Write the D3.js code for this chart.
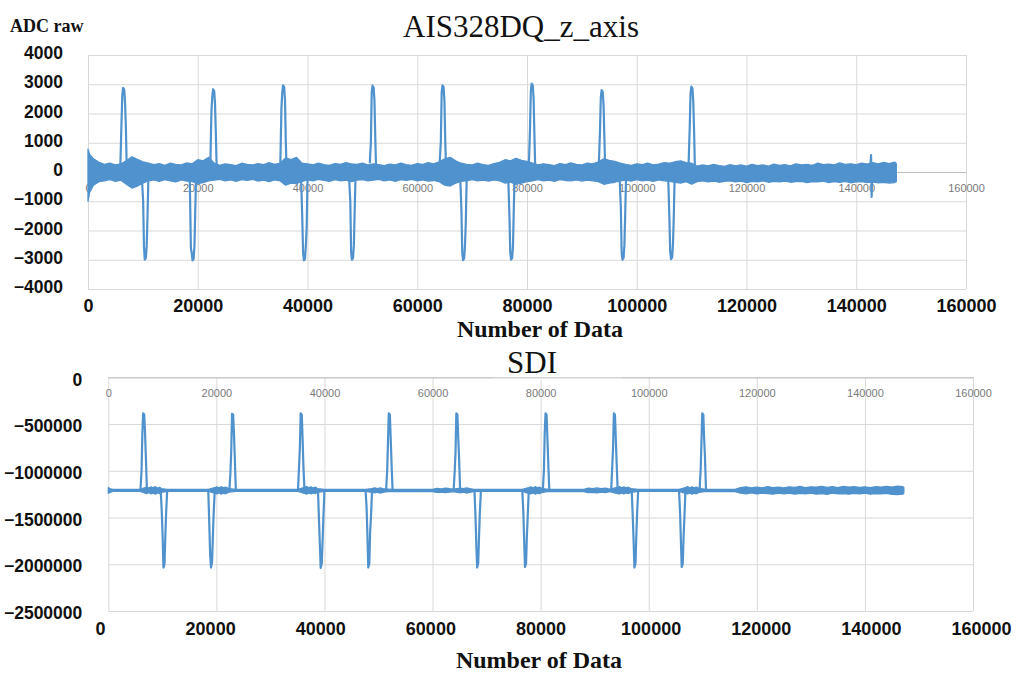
<!doctype html>
<html lang='en'>
  <head>
    <meta charset='utf-8' />
    <style>
      * {
        padding: 0;
        margin: 0;
      }

      body {
        background: #fff;
      }

      svg {
        display: block;
      }

      .grid line { stroke: #d9d9d9; stroke-width: 1; }
      .grid path { display: none; }
      .big path, .big line { display: none; }
      .big text {
        font-family: 'Liberation Sans', Arial, sans-serif;
        font-weight: 700;
        font-size: 17.5px;
        fill: #111;
      }
      .big.xl text { font-size: 18px; }
      .small line { display: none; }
      .small path { stroke: #bfbfbf; }
      .small text {
        font-family: 'Liberation Sans', Arial, sans-serif;
        font-size: 11px;
        fill: #7a7a7a;
      }
      .serif { font-family: 'Liberation Serif', 'Times New Roman', serif; fill: #111; }
    </style>
    <title>AIS328DQ_z_axis / SDI</title>
  </head>
  <body>
    <div id='container'></div>
    <script src='https://d3js.org/d3.v7.min.js'></script>
    <script type='text/javascript'>

      // tick labels
      var xTicks = [0, 20000, 40000, 60000, 80000, 100000, 120000, 140000, 160000];
      var zTicks = [-4000, -3000, -2000, -1000, 0, 1000, 2000, 3000, 4000];
      var sdiTicks = [-2500000, -2000000, -1500000, -1000000, -500000, 0];

      // AIS328DQ z axis: noise band (sample, upper, lower)
      var zBandX = [0, 300, 1000, 2000, 3000, 4000, 5000, 6000, 7000, 8000, 9000, 10000,
        11000, 12000, 13000, 14000, 15000, 16000, 17000, 18000, 19000, 20000,
        21000, 22000, 23000, 24000, 25000, 26000, 27000, 28000, 29000, 30000,
        31000, 32000, 33000, 34000, 35000, 36000, 37000, 38000, 39000, 40000,
        41000, 42000, 43000, 44000, 45000, 46000, 47000, 48000, 49000, 50000,
        51000, 52000, 53000, 54000, 55000, 56000, 57000, 58000, 59000, 60000,
        61000, 62000, 63000, 64000, 65000, 66000, 67000, 68000, 69000, 70000,
        71000, 72000, 73000, 74000, 75000, 76000, 77000, 78000, 79000, 80000,
        81000, 82000, 83000, 84000, 85000, 86000, 87000, 88000, 89000, 90000,
        91000, 92000, 93000, 94000, 95000, 96000, 97000, 98000, 99000, 100000,
        101000, 102000, 103000, 104000, 105000, 106000, 107000, 108000, 109000, 110000,
        111000, 112000, 113000, 114000, 115000, 116000, 117000, 118000, 119000, 120000,
        121000, 122000, 123000, 124000, 125000, 126000, 127000, 128000, 129000, 130000,
        131000, 132000, 133000, 134000, 135000, 136000, 137000, 138000, 139000, 140000,
        141000, 142000, 143000, 144000, 145000, 146000, 147000, 147300];
      var zBandHi = [780, 600, 450, 330, 260, 300, 240, 280, 380, 520, 430, 350,
        300, 250, 290, 230, 300, 260, 240, 310, 280, 420,
        380, 500, 300, 230, 280, 250, 220, 300, 260, 240,
        290, 250, 320, 260, 300, 480, 420, 500, 300, 280,
        240, 300, 250, 230, 290, 260, 320, 280, 260, 300,
        240, 280, 250, 220, 270, 240, 300, 250, 230, 290,
        260, 320, 280, 350, 450, 500, 380, 300, 260, 240,
        300, 250, 230, 290, 330, 420, 380, 470, 400, 360,
        300, 240, 280, 250, 220, 290, 250, 310, 260, 240,
        300, 280, 350, 450, 400, 360, 300, 260, 230, 280,
        250, 300, 240, 270, 320, 300, 350, 380, 320, 300,
        200, 240, 210, 260, 220, 190, 250, 210, 240, 200,
        260, 220, 240, 200, 270, 230, 250, 210, 280, 240,
        260, 230, 300, 250, 270, 240, 310, 260, 280, 250,
        300, 270, 320, 280, 330, 290, 340, 280];
      var zBandLo = [-1000, -700, -450, -330, -300, -260, -320, -280, -420, -550, -480, -380,
        -300, -270, -320, -260, -300, -340, -270, -310, -330, -400,
        -360, -300, -280, -250, -300, -270, -320, -260, -290, -250,
        -310, -280, -330, -270, -300, -450, -380, -400, -320, -270,
        -300, -250, -290, -320, -260, -300, -280, -330, -280, -260,
        -300, -280, -250, -300, -270, -320, -260, -290, -250, -300,
        -270, -310, -290, -330, -450, -480, -380, -320, -300, -260,
        -300, -280, -310, -270, -300, -380, -350, -420, -380, -330,
        -300, -260, -300, -280, -320, -260, -290, -300, -270, -310,
        -280, -300, -330, -420, -380, -350, -300, -280, -310, -260,
        -300, -280, -320, -270, -300, -320, -350, -380, -330, -420,
        -330, -300, -340, -310, -350, -320, -300, -340, -310, -360,
        -320, -340, -300, -350, -320, -340, -310, -350, -330, -320,
        -360, -330, -340, -310, -360, -330, -350, -320, -370, -340,
        -330, -360, -340, -370, -350, -380, -360, -330];

      // AIS328DQ z axis: spikes (sample, ADC raw)
      var zSpikes = [
        [[5900, 250], [6100, 1650], [6250, 2630], [6400, 2880], [6600, 2820], [6750, 2380], [6900, 1550], [7100, -250]],
        [[9850, -300], [10050, -1000], [10200, -2560], [10350, -3000], [10550, -2940], [10700, -2500], [10850, -1500], [11050, 200]],
        [[18550, -300], [18750, -2600], [18900, -2770], [19050, -3020], [19250, -2960], [19400, -2520], [19550, -1300], [19750, 200]],
        [[22300, 300], [22500, 2100], [22650, 2580], [22800, 2830], [23000, 2770], [23150, 2330], [23300, 1300], [23500, -250]],
        [[35050, 300], [35250, 2200], [35400, 2710], [35550, 2960], [35750, 2900], [35900, 2460], [36050, 1000], [36250, -300]],
        [[38850, -300], [39050, -1600], [39200, -2770], [39350, -3020], [39550, -2960], [39700, -2520], [39850, -1900], [40050, 200]],
        [[47600, -300], [47800, -1000], [47950, -2750], [48100, -3000], [48300, -2940], [48450, -2500], [48600, -1300], [48800, 200]],
        [[51350, 300], [51550, 1000], [51700, 2700], [51850, 2950], [52050, 2890], [52200, 2450], [52350, 1200], [52550, -250]],
        [[64100, 350], [64300, 1050], [64450, 2710], [64600, 2960], [64800, 2900], [64950, 2460], [65100, 1100], [65300, -250]],
        [[67850, -300], [68050, -1300], [68200, -2760], [68350, -3010], [68550, -2950], [68700, -2510], [68850, -1700], [69050, 200]],
        [[76600, -300], [76800, -1500], [76950, -2750], [77100, -3000], [77300, -2940], [77450, -2500], [77600, -1200], [77800, 200]],
        [[80350, 300], [80550, 1500], [80700, 2770], [80850, 3020], [81050, 2960], [81200, 2520], [81350, 1300], [81550, -250]],
        [[93100, 300], [93300, 1400], [93450, 2550], [93600, 2800], [93800, 2740], [93950, 2300], [94100, 1200], [94300, -300]],
        [[96900, -300], [97100, -1200], [97250, -2750], [97400, -3000], [97600, -2940], [97750, -2500], [97900, -1400], [98100, 200]],
        [[105750, -300], [105950, -1600], [106100, -2730], [106250, -2980], [106450, -2920], [106600, -2480], [106750, -1500], [106950, 200]],
        [[109450, 300], [109650, 1500], [109800, 2670], [109950, 2920], [110150, 2860], [110300, 2420], [110450, 1400], [110650, -300]],
        [[142550, 100], [142700, 580], [142800, -850], [142950, 100]]
      ];

      // SDI: noise band (sample, upper, lower)
      var sdiBandX = [0, 400, 900, 5900, 7100, 7500, 7900, 8300, 8700, 9100, 9500, 9800, 10900,
        18500, 19700, 20100, 20500, 20900, 21300, 21700, 22100, 22400, 23600,
        35100, 36300, 36700, 37100, 37500, 37900, 38300, 38700, 40000,
        47600, 48800, 49300, 49800, 50300, 50800, 51300, 52600,
        60000, 60800, 61600, 62400, 63200, 63900, 65100, 65700, 66300, 66900, 67500, 69000,
        76600, 77800, 78200, 78600, 79000, 79400, 79800, 80300, 81600,
        88000, 88800, 89600, 90400, 91200, 92000, 92800, 94200, 94600, 95000, 95400, 95800, 96200, 96700, 98100,
        105600, 106800, 107200, 107600, 108000, 108400, 108800, 109300, 110600,
        116000, 117000, 118000, 119000, 120000, 121000, 122000, 123000, 124000, 125000, 126000,
        127000, 128000, 129000, 130000, 131000, 132000, 133000, 134000, 135000, 136000,
        137000, 138000, 139000, 140000, 141000, 142000, 143000, 144000, 145000, 146000, 147000, 147200];
      var sdiBandHi = [-1180000, -1195000, -1200000, -1200000, -1175000, -1185000, -1172000, -1182000, -1170000, -1185000, -1176000, -1190000, -1200000,
        -1200000, -1180000, -1172000, -1185000, -1170000, -1182000, -1174000, -1186000, -1192000, -1200000,
        -1200000, -1178000, -1168000, -1182000, -1172000, -1184000, -1174000, -1190000, -1200000,
        -1200000, -1190000, -1182000, -1192000, -1184000, -1190000, -1194000, -1200000,
        -1198000, -1188000, -1194000, -1186000, -1192000, -1196000, -1186000, -1192000, -1184000, -1192000, -1196000, -1200000,
        -1200000, -1180000, -1172000, -1184000, -1170000, -1182000, -1176000, -1190000, -1200000,
        -1198000, -1186000, -1192000, -1184000, -1190000, -1186000, -1196000, -1178000, -1170000, -1182000, -1172000, -1184000, -1176000, -1190000, -1200000,
        -1200000, -1180000, -1170000, -1184000, -1172000, -1182000, -1174000, -1188000, -1200000,
        -1198000, -1180000, -1172000, -1184000, -1175000, -1182000, -1170000, -1180000, -1174000, -1183000, -1172000,
        -1178000, -1168000, -1180000, -1172000, -1176000, -1166000, -1178000, -1170000, -1180000, -1168000,
        -1176000, -1170000, -1178000, -1172000, -1180000, -1170000, -1176000, -1166000, -1174000, -1164000, -1170000, -1180000];
      var sdiBandLo = [-1240000, -1228000, -1220000, -1220000, -1245000, -1232000, -1248000, -1238000, -1250000, -1236000, -1244000, -1230000, -1220000,
        -1220000, -1240000, -1248000, -1234000, -1250000, -1238000, -1246000, -1234000, -1228000, -1220000,
        -1220000, -1242000, -1250000, -1236000, -1248000, -1238000, -1244000, -1230000, -1220000,
        -1220000, -1232000, -1236000, -1228000, -1238000, -1230000, -1226000, -1220000,
        -1222000, -1232000, -1228000, -1234000, -1228000, -1224000, -1236000, -1228000, -1238000, -1230000, -1224000, -1220000,
        -1220000, -1242000, -1248000, -1236000, -1250000, -1240000, -1244000, -1230000, -1220000,
        -1222000, -1234000, -1230000, -1236000, -1228000, -1234000, -1224000, -1244000, -1248000, -1238000, -1248000, -1236000, -1244000, -1230000, -1220000,
        -1220000, -1242000, -1248000, -1236000, -1250000, -1238000, -1246000, -1232000, -1220000,
        -1222000, -1240000, -1246000, -1236000, -1248000, -1238000, -1245000, -1250000, -1238000, -1246000, -1240000,
        -1250000, -1242000, -1248000, -1238000, -1250000, -1244000, -1252000, -1240000, -1248000, -1244000,
        -1250000, -1242000, -1248000, -1240000, -1250000, -1244000, -1248000, -1242000, -1252000, -1256000, -1250000, -1240000];

      // SDI: spikes (sample, value)
      var sdiSpikes = [
        [[5950, -1210000], [6150, -1000000], [6300, -600000], [6450, -385000], [6650, -400000], [6800, -600000], [6950, -850000], [7150, -1210000]],
        [[9700, -1210000], [9900, -1450000], [10050, -1700000], [10200, -2035000], [10400, -2000000], [10550, -1700000], [10700, -1450000], [10900, -1210000]],
        [[18500, -1210000], [18700, -1600000], [18850, -1900000], [19000, -2035000], [19200, -1980000], [19350, -1700000], [19500, -1450000], [19700, -1210000]],
        [[22400, -1210000], [22600, -1020000], [22750, -780000], [22900, -390000], [23100, -400000], [23250, -600000], [23400, -850000], [23600, -1210000]],
        [[35100, -1210000], [35300, -950000], [35450, -750000], [35600, -385000], [35800, -400000], [35950, -650000], [36100, -950000], [36300, -1210000]],
        [[38800, -1210000], [39000, -1550000], [39150, -1800000], [39300, -2040000], [39500, -1990000], [39650, -1750000], [39800, -1500000], [40000, -1210000]],
        [[47600, -1210000], [47800, -1400000], [47950, -1700000], [48100, -2035000], [48300, -1990000], [48450, -1650000], [48600, -1500000], [48800, -1210000]],
        [[51400, -1210000], [51600, -1000000], [51750, -700000], [51900, -385000], [52100, -400000], [52250, -650000], [52400, -900000], [52600, -1210000]],
        [[63900, -1210000], [64100, -1000000], [64250, -800000], [64400, -385000], [64600, -400000], [64750, -650000], [64900, -850000], [65100, -1210000]],
        [[67750, -1210000], [67950, -1500000], [68100, -1800000], [68250, -2035000], [68450, -1990000], [68600, -1700000], [68750, -1450000], [68950, -1210000]],
        [[76600, -1210000], [76800, -1450000], [76950, -1750000], [77100, -2030000], [77300, -1990000], [77450, -1700000], [77600, -1500000], [77800, -1210000]],
        [[80400, -1210000], [80600, -1000000], [80750, -600000], [80900, -385000], [81100, -400000], [81250, -650000], [81400, -900000], [81600, -1210000]],
        [[93050, -1210000], [93250, -950000], [93400, -750000], [93550, -385000], [93750, -400000], [93900, -650000], [94050, -900000], [94250, -1210000]],
        [[96850, -1210000], [97050, -1500000], [97200, -1750000], [97350, -2035000], [97550, -1990000], [97700, -1700000], [97850, -1450000], [98050, -1210000]],
        [[105600, -1210000], [105800, -1450000], [105950, -1750000], [106100, -2030000], [106300, -1990000], [106450, -1700000], [106600, -1500000], [106800, -1210000]],
        [[109400, -1210000], [109600, -1000000], [109750, -700000], [109900, -385000], [110100, -400000], [110250, -650000], [110400, -850000], [110600, -1210000]]
      ];

      var blue = '#5092cd';

      var svg = d3.select('#container').append('svg')
          .attr('width', 1019)
          .attr('height', 675);

      // draws one panel: grid, axes labels, noise band and spikes
      var drawPanel = function(p) {
        var g = svg.append('g');
        var w = p.x.range()[1] - p.x.range()[0];
        var h = p.y.range()[0] - p.y.range()[1];
        var fmt = d3.format('d');

        g.append('g').attr('class', 'grid')
          .attr('transform', 'translate(' + p.x.range()[0] + ',0)')
          .call(d3.axisLeft(p.y).tickValues(p.yTicks).tickSize(-w).tickFormat(''));
        g.append('g').attr('class', 'grid')
          .attr('transform', 'translate(0,' + p.y.range()[0] + ')')
          .call(d3.axisBottom(p.x).tickValues(xTicks).tickSize(h).tickFormat(''))
          .selectAll('line').attr('y2', -h);

        if (p.after) p.after(g);

        // Excel category axis at y = 0 with small grey labels
        g.append('g').attr('class', 'small')
          .attr('transform', 'translate(0,' + p.y(0) + ')')
          .call(d3.axisBottom(p.x).tickValues(xTicks).tickFormat(fmt).tickSize(0).tickPadding(12).tickSizeOuter(0));

        // big bold labels added below / left of the plot
        g.append('g').attr('class', 'big xl')
          .attr('transform', 'translate(0,' + p.y.range()[0] + ')')
          .call(d3.axisBottom(p.xLab).tickValues(xTicks).tickFormat(fmt).tickSize(0).tickPadding(p.xPad));
        g.append('g').attr('class', 'big')
          .attr('transform', 'translate(' + p.x.range()[0] + ',0)')
          .call(d3.axisLeft(p.y).tickValues(p.yTicks).tickFormat(fmt).tickSize(0).tickPadding(p.yPad))
          .selectAll('text').attr('dy', p.yDy);

        var band = d3.area()
          .x(function(d) { return p.x(d[0]); })
          .y0(function(d) { return p.y(d[2]); })
          .y1(function(d) { return p.y(d[1]); });

        g.append('path')
          .datum(d3.zip(p.bandX, p.bandHi, p.bandLo))
          .attr('d', band)
          .attr('fill', blue)
          .attr('stroke', blue)
          .attr('stroke-width', 1.3)
          .attr('stroke-linejoin', 'round');

        var line = d3.line()
          .x(function(d) { return p.x(d[0]); })
          .y(function(d) { return p.y(d[1]); });

        g.selectAll('path.spike')
          .data(p.spikes)
          .enter()
          .append('path')
          .attr('class', 'spike')
          .attr('d', line)
          .attr('fill', 'none')
          .attr('stroke', blue)
          .attr('stroke-width', 2.2)
          .attr('stroke-linejoin', 'round');
      };

      drawPanel({
        x: d3.scaleLinear().domain([0, 160000]).range([88, 966]),
        xLab: d3.scaleLinear().domain([0, 160000]).range([88, 966]),
        y: d3.scaleLinear().domain([-4000, 4000]).range([289, 55]),
        yTicks: zTicks,
        xPad: 10, yPad: 25, yDy: '0.2em',
        bandX: zBandX, bandHi: zBandHi, bandLo: zBandLo,
        spikes: zSpikes
      });

      drawPanel({
        x: d3.scaleLinear().domain([0, 160000]).range([108.3, 973]),
        xLab: d3.scaleLinear().domain([0, 160000]).range([100, 981]),
        y: d3.scaleLinear().domain([-2500000, 0]).range([611, 377.3]),
        yTicks: sdiTicks,
        xPad: 11, yPad: 26, yDy: '0.44em',
        bandX: sdiBandX, bandHi: sdiBandHi, bandLo: sdiBandLo,
        spikes: sdiSpikes,
        after: function(g) {
          // white box behind the SDI title cuts the top border
          g.append('rect').attr('x', 493).attr('y', 348).attr('width', 129).attr('height', 32).attr('fill', '#fff');
        }
      });

      svg.append('text').attr('class', 'serif')
        .attr('x', 10).attr('y', 32)
        .style('font-weight', 700).style('font-size', '18px')
        .text('ADC raw');

      svg.append('text').attr('class', 'serif')
        .attr('x', 521).attr('y', 37).attr('text-anchor', 'middle')
        .style('font-size', '31px')
        .text('AIS328DQ_z_axis');

      svg.append('text').attr('class', 'serif')
        .attr('x', 532).attr('y', 373).attr('text-anchor', 'middle')
        .style('font-size', '31px')
        .text('SDI');

      svg.append('text').attr('class', 'serif')
        .attr('x', 540).attr('y', 337).attr('text-anchor', 'middle')
        .style('font-weight', 700).style('font-size', '24px')
        .text('Number of Data');

      svg.append('text').attr('class', 'serif')
        .attr('x', 539).attr('y', 668).attr('text-anchor', 'middle')
        .style('font-weight', 700).style('font-size', '24px')
        .text('Number of Data');
    </script>
  </body>
</html>
